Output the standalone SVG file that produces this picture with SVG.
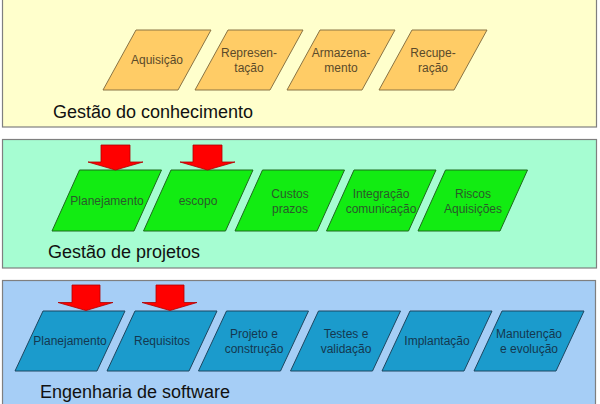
<svg xmlns="http://www.w3.org/2000/svg" width="600" height="404" viewBox="0 0 600 404">
<style>
.panel{stroke:#7f7f7f;stroke-width:1.2}
.title{font-family:"Liberation Sans",Arial,sans-serif;font-size:18px;fill:#111}
.lbl{font-family:"Liberation Sans",Arial,sans-serif;font-size:12px;text-anchor:middle}
.y polygon{fill:#ffcc66;stroke:#8a7444;stroke-width:1}
.y text{fill:#5a4a2a}
.g polygon{fill:#12ec12;stroke:#1d6a1d;stroke-width:1}
.g text{fill:#2a5a2a}
.b polygon{fill:#1b9bcc;stroke:#1c4660;stroke-width:1}
.b text{fill:#143850}
.arrow{fill:#ff0000;stroke:#b00000;stroke-width:0.8}
</style>
<rect width="600" height="404" fill="#ffffff"/>
<g id="panel-conhecimento">
<rect class="panel" x="2.5" y="-2" width="594" height="129" fill="#ffffcc"/>
<text class="title" x="53" y="118">Gestão do conhecimento</text>
</g>
<g id="panel-projetos">
<rect class="panel" x="2.5" y="139.5" width="594" height="128.5" fill="#a6fdd2"/>
<text class="title" x="48" y="258">Gestão de projetos</text>
</g>
<g id="panel-software">
<rect class="panel" x="2.5" y="280.5" width="593" height="126" fill="#a6cef6"/>
<text class="title" x="40" y="398">Engenharia de software</text>
</g>

<g id="aquisicao" class="y"><polygon points="136,30 211,30 178,90 103,90"/><text class="lbl" x="157" y="64">Aquisição</text></g>
<g id="representacao" class="y"><polygon points="228,30 303,30 270,90 195,90"/><text class="lbl" x="249" y="57">Represen-</text><text class="lbl" x="249" y="72">tação</text></g>
<g id="armazenamento" class="y"><polygon points="320,30 395,30 362,90 287,90"/><text class="lbl" x="341" y="57">Armazena-</text><text class="lbl" x="341" y="72">mento</text></g>
<g id="recuperacao" class="y"><polygon points="412,30 487,30 454,90 379,90"/><text class="lbl" x="433" y="57">Recupe-</text><text class="lbl" x="433" y="72">ração</text></g>

<g id="gp-planejamento" class="g"><polygon points="79.5,170 161.5,170 134,231 52,231"/><text class="lbl" x="107" y="205">Planejamento</text></g>
<g id="gp-escopo" class="g"><polygon points="171,170 253,170 225.5,231 143.5,231"/><text class="lbl" x="198" y="205">escopo</text></g>
<g id="gp-custos" class="g"><polygon points="262.5,170 344.5,170 317,231 235,231"/><text class="lbl" x="290" y="197.5">Custos</text><text class="lbl" x="290" y="212.5">prazos</text></g>
<g id="gp-integracao" class="g"><polygon points="354,170 436,170 408.5,231 326.5,231"/><text class="lbl" x="381" y="197.5">Integração</text><text class="lbl" x="381" y="212.5">comunicação</text></g>
<g id="gp-riscos" class="g"><polygon points="445.5,170 527.5,170 500,231 418,231"/><text class="lbl" x="473" y="197.5">Riscos</text><text class="lbl" x="473" y="212.5">Aquisições</text></g>

<g id="es-planejamento" class="b"><polygon points="43,311 125,311 97,371 15,371"/><text class="lbl" x="70" y="345">Planejamento</text></g>
<g id="es-requisitos" class="b"><polygon points="135,311 217,311 189,371 107,371"/><text class="lbl" x="162" y="345">Requisitos</text></g>
<g id="es-projeto" class="b"><polygon points="226.5,311 308.5,311 280.5,371 198.5,371"/><text class="lbl" x="254" y="337.5">Projeto e</text><text class="lbl" x="254" y="352.5">construção</text></g>
<g id="es-testes" class="b"><polygon points="318.5,311 400.5,311 372.5,371 290.5,371"/><text class="lbl" x="346" y="337.5">Testes e</text><text class="lbl" x="346" y="352.5">validação</text></g>
<g id="es-implantacao" class="b"><polygon points="410,311 492,311 464,371 382,371"/><text class="lbl" x="437" y="345">Implantação</text></g>
<g id="es-manutencao" class="b"><polygon points="502,311 584,311 556,371 474,371"/><text class="lbl" x="529" y="337.5">Manutenção</text><text class="lbl" x="529" y="352.5">e evolução</text></g>

<g id="arrows">
<polygon class="arrow" points="101,145 130,145 130,162 143,162 115.5,170 88,162 101,162"/>
<polygon class="arrow" points="193,145 222,145 222,162 235,162 207.5,170 180,162 193,162"/>
<polygon class="arrow" points="72,285 100,285 100,302.5 113,302.5 86,310.5 58,302.5 72,302.5"/>
<polygon class="arrow" points="156,285 184,285 184,302.5 197,302.5 170,310.5 142,302.5 156,302.5"/>
</g>
</svg>
